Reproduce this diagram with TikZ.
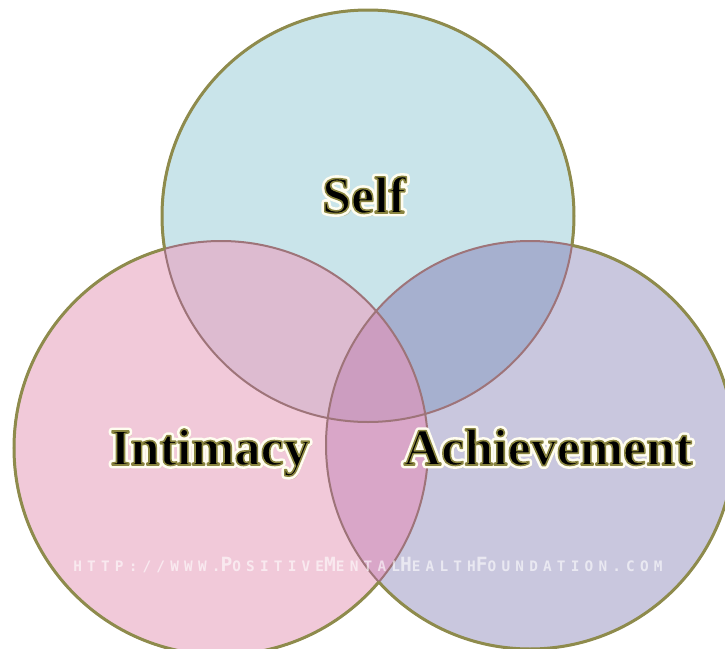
\documentclass[tikz,border=0pt]{standalone}
\usepackage{fontspec}
\setmainfont{Liberation Serif}
\newfontfamily\wmfont[LetterSpace=36]{DejaVu Sans Mono Bold}
\usetikzlibrary{calc}

\definecolor{selfblue}{HTML}{C9E4EA}
\definecolor{intpink}{HTML}{F1C9D9}
\definecolor{achlilac}{HTML}{C9C7DE}
\definecolor{selfint}{HTML}{DDBBD0}
\definecolor{selfach}{HTML}{A6B0CF}
\definecolor{intach}{HTML}{D9A6C8}
\definecolor{allthree}{HTML}{CC9DC0}
\definecolor{rimolive}{HTML}{8E8B4C}
\definecolor{innerline}{HTML}{9E7479}
\definecolor{shadowolive}{HTML}{A9A268}
\definecolor{halo}{HTML}{FFFDF0}

\tikzset{
  venn text/.style={font=\fontsize{26}{28}\selectfont\bfseries, inner sep=0pt, anchor=base},
  wm text/.style={font=\wmfont\fontsize{7.2}{8}\selectfont, text=white, opacity=.6, inner sep=0pt, anchor=base},
  outer rim/.style={draw=rimolive, line width=1.5pt},
  inner rim/.style={draw=innerline, line width=1pt}
}

% big letters of the watermark
\newcommand{\wmcap}[1]{{\fontsize{9.8}{10}\selectfont\addfontfeature{LetterSpace=9}#1}}
% glyph outlines: fill and stroke
\newcommand{\halostroke}[1]{\special{pdf:literal direct 2 Tr 3.4 w 1 j}#1\special{pdf:literal direct 0 Tr}}
\newcommand{\fringestroke}[1]{\special{pdf:literal direct 2 Tr 0.8 w 1 j 0.54 0.52 0.25 RG}#1\special{pdf:literal direct 0 Tr}}

% label with shadow, white glow and olive fringe
\newcommand{\glowlabel}[3]{%
  \node[venn text, text=shadowolive, opacity=.5] (#1-shadow) at ($(#2)+(3,3.5)$) {#3};
  \node[venn text, text=halo] (#1-halo) at (#2) {\halostroke{#3}};
  \node[venn text] (#1) at (#2) {\fringestroke{#3}};
}

\begin{document}
\begin{tikzpicture}[x=0.5pt, y=-0.5pt]
    \useasboundingbox (0,0) rectangle (725,649);
    \clip (0,0) rectangle (725,649);

    \coordinate (cs) at (368,216);
    \coordinate (ci) at (221,448);
    \coordinate (ca) at (530,445);
    \def\rs{103pt}
    \def\ri{103.5pt}
    \def\ra{102pt}

    % plain circles
    \fill[intpink] (ci) circle (\ri);
    \fill[achlilac] (ca) circle (\ra);
    \fill[selfblue] (cs) circle (\rs);
    % overlaps
    \begin{scope}
        \clip (cs) circle (\rs);
        \fill[selfint] (ci) circle (\ri);
        \fill[selfach] (ca) circle (\ra);
    \end{scope}
    \begin{scope}
        \clip (ci) circle (\ri);
        \fill[intach] (ca) circle (\ra);
        \clip (cs) circle (\rs);
        \fill[allthree] (ca) circle (\ra);
    \end{scope}

    % rims inside the overlaps
    \draw[inner rim] (cs) circle (\rs);
    \draw[inner rim] (ci) circle (\ri);
    \draw[inner rim] (ca) circle (\ra);

    % outer rims
    \begin{scope}[even odd rule]
        \clip (-20,-20) rectangle (760,700) (ci) circle (\ri);
        \clip (-20,-20) rectangle (760,700) (ca) circle (\ra);
        \draw[outer rim] (cs) circle (\rs);
    \end{scope}
    \begin{scope}[even odd rule]
        \clip (-20,-20) rectangle (760,700) (cs) circle (\rs);
        \clip (-20,-20) rectangle (760,700) (ca) circle (\ra);
        \draw[outer rim] (ci) circle (\ri);
    \end{scope}
    \begin{scope}[even odd rule]
        \clip (-20,-20) rectangle (760,700) (cs) circle (\rs);
        \clip (-20,-20) rectangle (760,700) (ci) circle (\ri);
        \draw[outer rim] (ca) circle (\ra);
    \end{scope}

    % labels
    \coordinate (self-pos) at (364,213);
    \coordinate (intimacy-pos) at (210,465);
    \coordinate (achievement-pos) at (548,465);
    \glowlabel{self}{self-pos}{Self}
    \glowlabel{intimacy}{intimacy-pos}{Intimacy}
    \glowlabel{achievement}{achievement-pos}{Achievement}

    \node[wm text] (watermark) at (368,571) {HTTP://WWW.\wmcap{P}OSITIVE\wmcap{M}ENTAL\wmcap{H}EALTH\wmcap{F}OUNDATION.COM};
\end{tikzpicture}
\end{document}
